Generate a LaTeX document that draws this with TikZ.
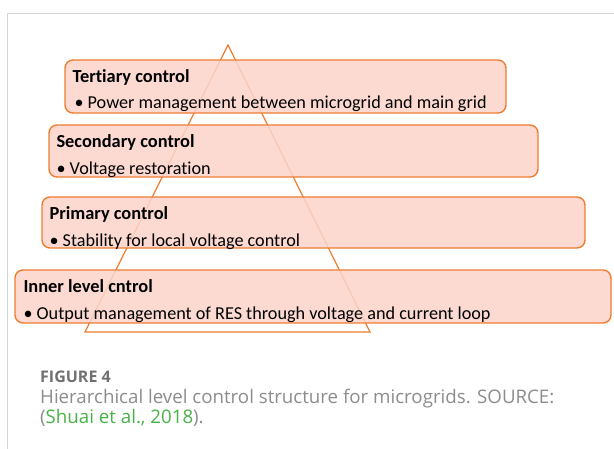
\documentclass[tikz,border=0pt]{standalone}
\usepackage{fontspec}
\setmainfont{Carlito}[Ligatures=NoCommon]
\newfontfamily\capfont{Open Sans}
\usetikzlibrary{positioning}

\definecolor{boxorange}{RGB}{237,125,49}
\definecolor{boxfill}{RGB}{251,212,202}
\definecolor{framegray}{RGB}{212,212,212}
\definecolor{capgray}{RGB}{140,140,140}
\definecolor{capdark}{RGB}{112,112,112}
\definecolor{reflink}{RGB}{72,178,72}

\begin{document}
\begin{tikzpicture}[x=1pt,y=-1pt,
  levelsty/.style={draw=boxorange, line width=1.4pt, fill=boxfill, fill opacity=0.85,
                   rounded corners=8pt, inner sep=0pt},
  tristy/.style={draw=boxorange, line width=1.2pt},
  titlesty/.style={anchor=base west, inner sep=0pt, font=\fontsize{18.4}{21}\selectfont\bfseries},
  itemsty/.style={anchor=base west, inner sep=0pt, font=\fontsize{18.2}{21}\selectfont},
  capsty/.style={anchor=base west, inner sep=0pt, text=capgray, font=\capfont\fontsize{18.7}{21}\selectfont}]

\useasboundingbox (0,0) rectangle (614,449);

% page frame
\draw[framegray, line width=1pt] (7,449) -- (7,14) -- (614,14);

% pyramid
\coordinate (apex) at (228,45);
\coordinate (baseL) at (85,332);
\coordinate (baseR) at (370,332);
\draw[tristy] (apex) -- (baseL) -- (baseR) -- cycle;

% control levels
\node[levelsty, minimum width=441pt, minimum height=53pt] (tert) at (285.5,86.5) {};
\node[levelsty, minimum width=489pt, minimum height=52pt] (sec) at (293.5,151) {};
\node[levelsty, minimum width=543pt, minimum height=51pt] (prim) at (313.5,222.5) {};
\node[levelsty, minimum width=596pt, minimum height=53pt] (inner) at (313,296.5) {};

\node[titlesty] (tertT) at ([xshift=8pt,yshift=-23pt]tert.north west) {Tertiary control};
\node[itemsty] (tertI) at ([xshift=10pt,yshift=-49pt]tert.north west) {• Power management between microgrid and main grid};

\node[titlesty] (secT) at ([xshift=8pt,yshift=-23pt]sec.north west) {Secondary control};
\node[itemsty] (secI) at ([xshift=8pt,yshift=-50pt]sec.north west) {• Voltage restoration};

\node[titlesty] (primT) at ([xshift=8pt,yshift=-23pt]prim.north west) {Primary control};
\node[itemsty] (primI) at ([xshift=8pt,yshift=-50pt]prim.north west) {• Stability for local voltage control};

\node[titlesty] (innerT) at ([xshift=9pt,yshift=-23pt]inner.north west) {Inner level cntrol};
\node[itemsty] (innerI) at ([xshift=9pt,yshift=-50pt]inner.north west) {• Output management of RES through voltage and current loop};

% caption
\node[capsty, text=capdark, font=\capfont\fontsize{16}{19}\selectfont\bfseries] (figno) at (40,383) {FIGURE 4};
\node[capsty] (capA) at (40,404) {Hierarchical level control structure for microgrids. SOURCE:};
\node[capsty] (capB) at (40,424) {(\textcolor{reflink}{Shuai et al., 2018}).};

\end{tikzpicture}
\end{document}
